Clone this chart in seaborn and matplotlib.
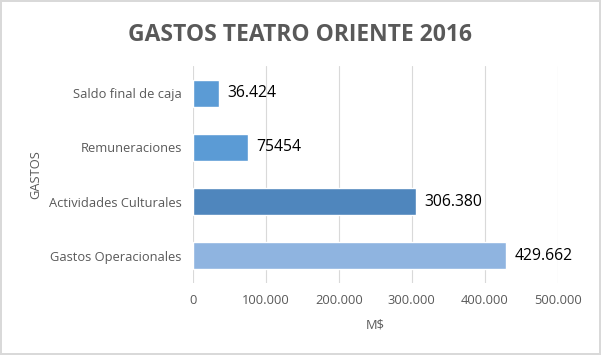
import pandas as pd
import matplotlib
matplotlib.use('Agg')
import matplotlib.pyplot as plt
import seaborn as sns
from matplotlib.ticker import FuncFormatter

# data
categorias = ['Saldo final de caja', 'Remuneraciones', 'Actividades Culturales', 'Gastos Operacionales']
montos = [36424, 75454, 306380, 429662]
etiquetas = ['36.424', '75454', '306.380', '429.662']
colores = ['#5b9bd5', '#5b9bd5', '#4f86bd', '#8fb4e0']

df = pd.DataFrame({'Gasto': categorias, 'Monto': montos})

sns.set_style('white')
plt.rcParams['font.family'] = ['Open Sans', 'DejaVu Sans']

fig = plt.figure(figsize=(6.01, 3.55), dpi=100)
fig.patch.set_edgecolor('#d9d9d9')
fig.patch.set_linewidth(1.5)
ax = fig.add_axes([0.321, 0.203, 0.607, 0.611])

sns.barplot(data=df, y='Gasto', x='Monto', hue='Gasto', palette=colores,
            width=0.5, legend=False, ax=ax, saturation=1)

for i, (m, t) in enumerate(zip(montos, etiquetas)):
    ax.text(m + 11000, i, t, va='center', ha='left', fontsize=11.3, color='black')

ax.set_xlim(0, 500000)
ax.set_xticks(range(0, 500001, 100000))
ax.xaxis.set_major_formatter(FuncFormatter(lambda v, p: f'{int(v):,}'.replace(',', '.')))
ax.grid(axis='x', color='#d9d9d9', linewidth=0.8)
ax.set_axisbelow(True)
for s in ax.spines.values():
    s.set_visible(False)
ax.tick_params(axis='both', length=0, labelsize=9.3, colors='#595959', pad=8)

ax.set_xlabel('M$', fontsize=9.3, color='#595959', labelpad=8)
ax.set_ylabel('GASTOS', fontsize=9.3, color='#595959', labelpad=5)

fig.suptitle('GASTOS TEATRO ORIENTE 2016', fontsize=16.5, fontweight='bold',
             color='#595959', y=0.935)

fig.savefig('out.png', dpi=100, edgecolor=fig.get_edgecolor())
